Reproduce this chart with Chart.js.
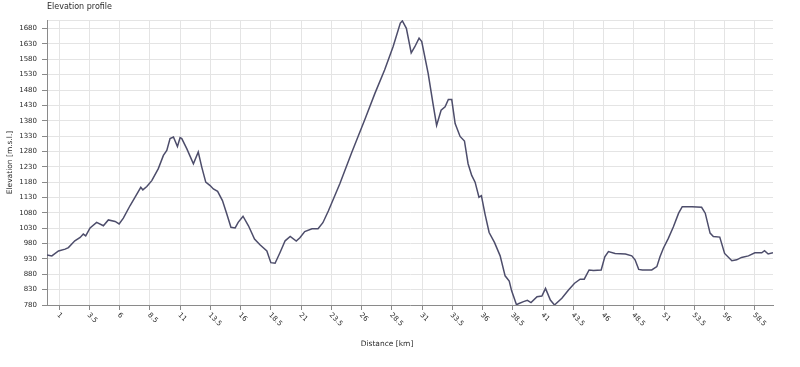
<!DOCTYPE html><html><head>
    <title>Elevation profile</title>
    <style>
        html, body { margin: 0; padding: 0; background: #ffffff; }
        #wrap { width: 800px; height: 367px; }
    </style>
</head>
<body>
    <div id="wrap"><canvas id="chart" width="800" height="367"></canvas></div>
    <script src="https://cdn.jsdelivr.net/npm/chart.js"></script>
    <script>
        // distance along the track [km] and elevation [m]
        const distanceKm = [0, 0.4, 0.95, 1.5, 1.77, 2.3, 2.74, 3.0, 3.2, 3.56, 4.1, 4.66, 5.07, 5.63, 5.96, 6.31, 6.87, 7.28, 7.75, 7.92,
            8.25, 8.66, 9.2, 9.62, 9.9, 10.17, 10.45, 10.78, 11.0, 11.14, 11.55, 12.1, 12.5, 12.79, 13.12, 13.48, 13.75, 14.1, 14.5, 14.86,
            15.2, 15.55, 15.8, 16.2, 16.65, 17.15, 17.6, 18.17, 18.5, 18.85, 19.26, 19.68, 20.1, 20.6, 20.9, 21.3, 21.9, 22.4, 22.8, 23.26,
            24.2, 25.2, 26.3, 27.1, 27.9, 28.6, 29.2, 29.37, 29.7, 30.1, 30.4, 30.75, 30.97, 31.5, 31.9, 32.2, 32.57, 32.9, 33.17, 33.45,
            33.73, 34.14, 34.5, 34.8, 35.1, 35.38, 35.7, 35.9, 36.2, 36.54, 36.98, 37.45, 37.86, 38.2, 38.4, 38.8, 38.96, 39.38, 39.7, 40.0,
            40.5, 40.9, 41.2, 41.6, 41.94, 42.55, 43.1, 43.6, 44.06, 44.4, 44.8, 45.16, 45.8, 46.1, 46.4, 46.95, 47.8, 48.33, 48.6, 48.9,
            49.2, 49.98, 50.4, 50.66, 50.94, 51.35, 51.77, 52.2, 52.5, 53.3, 54.1, 54.4, 54.8, 55.07, 55.6, 56.0, 56.6, 57.0, 57.4, 57.97,
            58.5, 59.07, 59.3, 59.6, 60.0];
        const elevationM = [943, 940, 956, 962, 967, 989, 1000, 1011, 1005, 1031, 1049, 1038, 1057, 1052, 1044, 1063, 1104, 1131, 1163, 1155,
            1166, 1185, 1224, 1267, 1283, 1322, 1327, 1296, 1325, 1322, 1289, 1240, 1278, 1229, 1180, 1169, 1158, 1150, 1120, 1076,
            1033, 1031, 1049, 1069, 1038, 995, 976, 956, 918, 916, 951, 989, 1003, 988, 999, 1019, 1028, 1028, 1048, 1087,
            1175, 1278, 1387, 1469, 1545, 1621, 1698, 1705, 1681, 1601, 1621, 1649, 1638, 1534, 1436, 1365, 1414, 1425, 1449, 1449,
            1371, 1329, 1314, 1240, 1202, 1180, 1131, 1136, 1076, 1016, 984, 940, 875, 858, 826, 781, 784, 791, 795, 788,
            807, 809, 834, 796, 780, 802, 829, 851, 864, 864, 894, 892, 894, 937, 954, 948, 946, 940, 927, 896,
            894, 894, 905, 937, 965, 997, 1035, 1079, 1100, 1100, 1098, 1079, 1014, 1003, 1001, 948, 924, 927, 935, 940,
            950, 950, 957, 946, 950];
        const xTicks = [1, 3.5, 6, 8.5, 11, 13.5, 16, 18.5, 21, 23.5, 26, 28.5, 31, 33.5, 36, 38.5, 41, 43.5, 46, 48.5, 51, 53.5, 56, 58.5];
        const yTicks = [780, 830, 880, 930, 980, 1030, 1080, 1130, 1180, 1230, 1280, 1330, 1380, 1430, 1480, 1530, 1580, 1630, 1680];
        const yMin = 780, yMax = 1708;

        const txt = '#2b2b2b';
        const fam = "'DejaVu Sans', sans-serif";

        // title, rotated distance labels and axis caption
        const extraText = {
            id: 'extraText',
            afterDraw(chart) {
                const ctx = chart.ctx;
                const sx = chart.scales.x;
                ctx.save();
                ctx.fillStyle = txt;
                ctx.font = '8px ' + fam;
                ctx.textAlign = 'left';
                ctx.textBaseline = 'middle';
                ctx.fillText('Elevation profile', 47, 7);

                ctx.font = '7px ' + fam;
                sx.ticks.forEach(t => {
                    const px = sx.getPixelForValue(t.value);
                    ctx.save();
                    ctx.translate(px - 1, sx.top + 9);
                    ctx.rotate(Math.PI / 4);
                    ctx.fillText(String(t.value), 0, 0);
                    ctx.restore();
                });

                ctx.font = '7.5px ' + fam;
                ctx.textAlign = 'center';
                ctx.fillText('Distance [km]', 387, 344);
                ctx.restore();
            }
        };

        const ctx = document.getElementById('chart').getContext('2d');
        const chart = new Chart(ctx, {
            type: 'line',
            data: {
                datasets: [{
                    data: distanceKm.map((d, i) => ({ x: d, y: elevationM[i] })),
                    borderColor: '#4d4d6b',
                    borderWidth: 1.5,
                    pointRadius: 0,
                    tension: 0,
                    fill: false
                }]
            },
            options: {
                responsive: false,
                animation: false,
                layout: { padding: { top: 20, right: 27, left: 0, bottom: 0 } },
                plugins: {
                    legend: { display: false },
                    tooltip: { enabled: false }
                },
                scales: {
                    x: {
                        type: 'linear',
                        min: 0,
                        max: 60,
                        afterBuildTicks: s => { s.ticks = xTicks.map(v => ({ value: v })); },
                        afterFit: s => { s.height = 62; },
                        ticks: { display: false },
                        grid: { color: '#e4e4e4', tickColor: '#8a8a8a', tickLength: 5 },
                        border: { color: '#8a8a8a', width: 1 }
                    },
                    y: {
                        min: yMin,
                        max: yMax,
                        afterBuildTicks: s => { s.ticks = yTicks.concat([yMax]).map(v => ({ value: v })); },
                        afterFit: s => { s.width = 47; },
                        ticks: {
                            padding: 5,
                            color: txt,
                            font: { family: fam, size: 7 },
                            callback: v => (v === yMax ? '' : String(v))
                        },
                        grid: {
                            color: '#e4e4e4',
                            tickLength: 5,
                            tickColor: c => (c.tick && c.tick.value === yMax ? 'rgba(0,0,0,0)' : '#8a8a8a')
                        },
                        border: { color: '#8a8a8a', width: 1 },
                        title: {
                            display: true,
                            text: 'Elevation [m.s.l.]',
                            color: txt,
                            font: { family: fam, size: 7.5 },
                            padding: { top: 6, bottom: 0 }
                        }
                    }
                }
            },
            plugins: [extraText]
        });
    </script>
</body></html>
